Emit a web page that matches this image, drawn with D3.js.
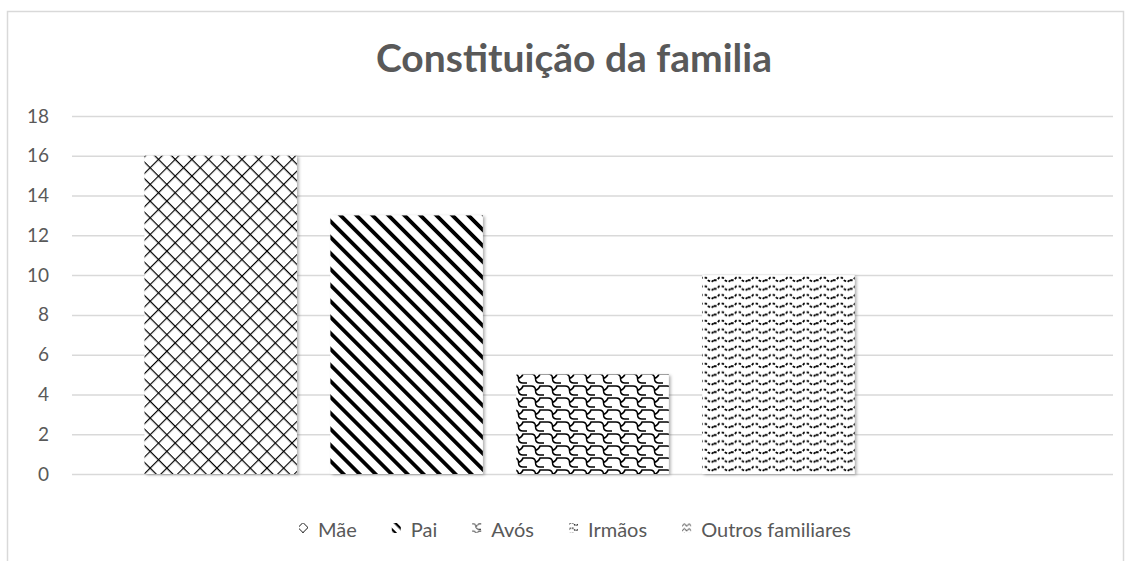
<!DOCTYPE html>
<html>
<head>
<meta charset="utf-8">
<script src="https://cdn.jsdelivr.net/npm/d3@7"></script>
<style>
  body { margin: 0; background: #fff; }
  svg { font-family: Lato, "Open Sans", sans-serif; }
</style>
</head>
<body>
<div id="chart"></div>
<script>
// DATA
const categories = ["Mãe", "Pai", "Avós", "Irmãos", "Outros familiares"];
const values = [16, 13, 5, 10, 0];
const yTicks = [0, 2, 4, 6, 8, 10, 12, 14, 16, 18];
const title = "Constituição da familia";

const W = 1131, H = 561;
const settings = {
    left: 72,
    right: 1113,
    top: 116,
    bottom: 474,
    center: 575,
    text: "#595959",
    grid: "#d9d9d9",
    legendGap: 54
};

const svg = d3.select("#chart").append("svg")
    .attr("width", W)
    .attr("height", H);

const defs = svg.append("defs");

// pattern fills, one per category
function makePattern(id, w, h, transform, draw) {
    const p = defs.append("pattern")
        .attr("id", id)
        .attr("patternUnits", "userSpaceOnUse")
        .attr("width", w)
        .attr("height", h);
    if (transform) p.attr("patternTransform", transform);
    p.append("rect").attr("width", w).attr("height", h).attr("fill", "#fff");
    draw(p);
}

function patterns(suffix, s) {
    // crosshatch (Mãe)
    const c = 11.8 * s;
    makePattern("p0" + suffix, c, c, "rotate(45)", p => {
        p.append("path")
            .attr("d", `M0,0H${c}M0,0V${c}`)
            .attr("stroke", "#000").attr("stroke-width", 2.3 * s).attr("fill", "none");
    });
    // wide downward diagonal (Pai)
    const d = 11.3 * s;
    makePattern("p1" + suffix, d, d, "rotate(45)", p => {
        p.append("rect")
            .attr("x", 0).attr("y", 0)
            .attr("width", d).attr("height", 3.8 * s)
            .attr("fill", "#000");
    });
    // shingle (Avós)
    const k = s;
    makePattern("p2" + suffix, 17 * k, 12 * k, null, p => {
        p.append("path")
            .attr("d", `M0,${2*k} H${4*k} C${7*k},${2*k} ${8.5*k},${4*k} ${8.5*k},${6.5*k}
                        C${8.5*k},${9*k} ${10*k},${11*k} ${13*k},${11*k} H${17*k}
                        M${8.5*k},${6.5*k} C${10.5*k},${5.5*k} ${12.5*k},${4*k} ${13*k},${2*k} H${17*k}`)
            .attr("stroke", "#000").attr("stroke-width", 1.5 * s).attr("fill", "none");
    });
    // wave (Irmãos)
    makePattern("p3" + suffix, 17 * s, 8.6 * s, null, p => {
        p.append("path")
            .attr("d", `M0,${5*s} L${3*s},${5*s} L${5*s},${2.5*s} L${9*s},${2.5*s} L${11*s},${5*s} L${14*s},${6.8*s} L${17*s},${5*s}`)
            .attr("stroke", "#000").attr("stroke-width", 1.8 * s).attr("fill", "none")
            .attr("stroke-dasharray", `${2.6*s},${1.8*s}`);
    });
    // zigzag (Outros familiares)
    makePattern("p4" + suffix, 16 * s, 8 * s, null, p => {
        p.append("path")
            .attr("d", `M0,${6*s} L${4*s},${2*s} L${8*s},${6*s} L${12*s},${2*s} L${16*s},${6*s}`)
            .attr("stroke", "#000").attr("stroke-width", 1.5 * s).attr("fill", "none");
    });
}
patterns("", 1);
patterns("s", 0.6);

const shadow = defs.append("filter").attr("id", "shadow")
    .attr("x", "-10%").attr("y", "-10%").attr("width", "130%").attr("height", "130%");
shadow.append("feDropShadow")
    .attr("dx", 2).attr("dy", 1).attr("stdDeviation", 1.5)
    .attr("flood-color", "#000").attr("flood-opacity", 0.3);

// outer border
svg.append("rect")
    .attr("x", 7.5).attr("y", 11.5)
    .attr("width", 1116).attr("height", 560)
    .attr("fill", "none").attr("stroke", settings.grid).attr("stroke-width", 1.5);

// SCALES
const x = d3.scaleBand()
    .domain(categories)
    .range([settings.left, settings.right])
    .paddingInner(0.18)
    .paddingOuter(0.39);

const y = d3.scaleLinear()
    .domain([0, 18])
    .range([settings.bottom, settings.top]);

// gridlines + labels
const yAxis = d3.axisLeft(y)
    .tickValues(yTicks)
    .tickSize(-(settings.right - settings.left))
    .tickPadding(23);

const gy = svg.append("g")
    .attr("transform", `translate(${settings.left},0)`)
    .call(yAxis);
gy.select(".domain").remove();
gy.selectAll(".tick line")
    .attr("stroke", settings.grid)
    .attr("stroke-width", 1.5);
gy.selectAll(".tick text")
    .attr("fill", settings.text)
    .style("font-size", "19px")
    .style("font-family", "Lato, sans-serif");

// bars
svg.append("g")
    .selectAll("rect")
    .data(categories.filter((c, i) => values[i] > 0))
    .join("rect")
    .attr("x", d => x(d))
    .attr("y", d => y(values[categories.indexOf(d)]))
    .attr("width", x.bandwidth())
    .attr("height", d => y(0) - y(values[categories.indexOf(d)]))
    .attr("fill", d => `url(#p${categories.indexOf(d)})`)
    .attr("filter", "url(#shadow)");

// title
svg.append("text")
    .attr("x", settings.center - 1)
    .attr("y", 72)
    .attr("text-anchor", "middle")
    .attr("fill", settings.text)
    .style("font-size", "39px")
    .style("font-weight", "bold")
    .text(title);

// legend, laid out from the measured text widths and centred in the chart box
const legend = svg.append("g");
const items = legend.selectAll("g")
    .data(categories)
    .join("g");

items.append("rect")
    .attr("x", -19).attr("y", -14)
    .attr("width", 9).attr("height", 10)
    .attr("fill", (d, i) => `url(#p${i}s)`);

items.append("text")
    .attr("fill", settings.text)
    .style("font-size", "20px")
    .text(d => d);

let cursor = 0;
items.each(function () {
    const g = d3.select(this);
    g.attr("transform", `translate(${cursor},537)`);
    cursor += g.select("text").node().getComputedTextLength() + settings.legendGap;
});
const legendWidth = cursor - settings.legendGap + 19;
legend.attr("transform", `translate(${settings.center - legendWidth / 2 + 19},0)`);
</script>
</body>
</html>
